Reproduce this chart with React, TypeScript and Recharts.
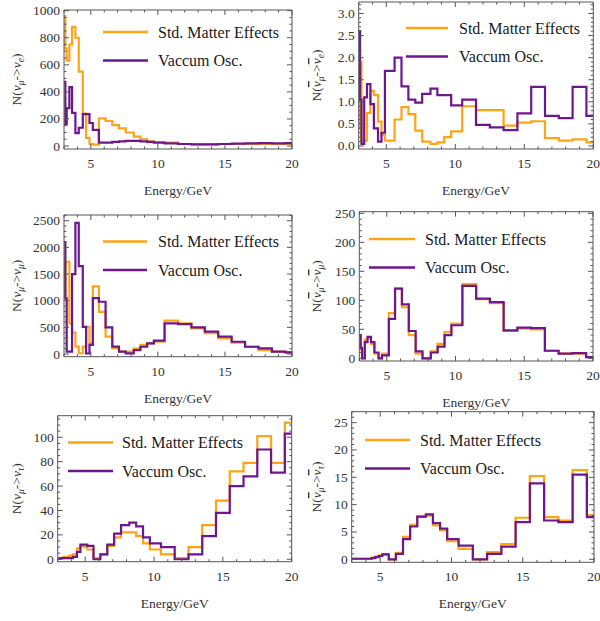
import React from 'react'
import { LineChart, Line, XAxis, YAxis } from 'recharts'

// bin starts (GeV); last entry closes the final bin
const ENERGY_EDGES = [3.0, 3.1, 3.2, 3.4, 3.6, 3.85, 4.1, 4.4, 4.65, 4.9, 5.15, 5.6, 6.1, 6.6, 7.1, 7.6, 8.2, 8.7, 9.2, 9.7, 10.5, 11.5, 12.5, 13.5, 14.5, 15.5, 16.5, 17.5, 18.5, 19.5, 20]

const NUMU_NUE_STD = [960, 720, 630, 750, 880, 800, 550, 240, 60, 15, 10, 205, 185, 155, 130, 100, 70, 50, 35, 28, 25, 15, 12, 12, 15, 15, 15, 15, 15, 15]
const NUMU_NUE_VAC = [475, 160, 280, 435, 245, 95, 135, 235, 235, 170, 120, 25, 25, 30, 35, 38, 38, 35, 30, 25, 20, 15, 12, 12, 15, 18, 20, 22, 20, 22]
const ANUMU_ANUE_STD = [0.4, 1.9, 0.12, 0.12, 0.75, 1.25, 1.15, 0.55, 0.25, 0.12, 0.12, 0.6, 0.88, 0.72, 0.35, 0.1, 0.05, 0.08, 0.2, 0.33, 0.9, 0.81, 0.81, 0.46, 0.53, 0.56, 0.18, 0.12, 0.15, 0.08]
const ANUMU_ANUE_VAC = [2.6, 1.05, 0.05, 1.1, 1.4, 0.95, 0.4, 0.1, 0.3, 1.7, 1.7, 2.0, 1.35, 1.05, 0.98, 1.18, 1.3, 1.15, 1.15, 0.92, 1.05, 0.48, 0.42, 0.36, 0.74, 1.34, 0.68, 0.63, 1.34, 0.68]
const NUMU_NUMU_STD = [1050, 1730, 1730, 575, 400, 140, 15, 140, 510, 200, 1270, 790, 325, 106, 44, 44, 100, 170, 200, 230, 625, 575, 480, 390, 295, 212, 137, 75, 44, 30]
const NUMU_NUMU_VAC = [2100, 1045, 45, 45, 1500, 2460, 1650, 510, 10, 170, 1050, 980, 500, 140, 44, 12, 75, 137, 200, 250, 575, 560, 500, 420, 325, 230, 137, 106, 44, 31]
const ANUMU_ANUMU_STD = [40, 15, 0, 32, 35, 25, 8, 0, 8, 8, 78, 120, 88, 40, 8, 0, 12, 25, 45, 60, 128, 102, 95, 47, 51, 50, 13, 8, 8, 2]
const ANUMU_ANUMU_VAC = [40, 18, 0, 28, 37, 28, 10, 0, 5, 5, 68, 120, 93, 47, 12, 0, 10, 20, 40, 57, 125, 103, 97, 48, 53, 52, 13, 8, 9, 2]
const NUMU_NUTAU_STD = [1, 1, 1, 2, 2, 3, 4, 9, 11, 10, 8, 1, 4, 11, 18, 22, 22, 19, 13, 8, 4, 1, 10, 28, 48, 72, 79, 101, 79, 112]
const NUMU_NUTAU_VAC = [0.5, 0.5, 1, 1, 1, 1, 2, 6, 12, 12, 11, 0, 4, 12, 21, 28, 30, 27, 18, 13, 10, 0, 4, 19, 38, 60, 68, 90, 71, 103]
const ANUMU_ANUTAU_STD = [0.1, 0.1, 0.1, 0.1, 0.1, 0.1, 0.1, 0.3, 0.5, 0.7, 0.9, 0, 1.2, 4.1, 6.3, 7.8, 8.0, 6.2, 5.3, 3.3, 1.9, 0, 1.3, 2.8, 7.6, 15.2, 7.7, 7.1, 16.3, 8.1]
const ANUMU_ANUTAU_VAC = [0.1, 0.1, 0.1, 0.1, 0.1, 0.1, 0.1, 0.2, 0.4, 0.6, 0.9, 0, 1.0, 3.7, 6.0, 7.8, 8.2, 6.6, 5.6, 3.7, 2.5, 0, 1.0, 2.3, 6.8, 13.9, 7.1, 6.8, 15.5, 7.7]

const X_TICKS = [5, 10, 15, 20]
const Y_TICKS_NUE = [0, 200, 400, 600, 800, 1000]
const Y_TICKS_ANUE = [0, 0.5, 1, 1.5, 2, 2.5, 3]
const Y_TICKS_NUMU = [0, 500, 1000, 1500, 2000, 2500]
const Y_TICKS_ANUMU = [0, 50, 100, 150, 200, 250]
const Y_TICKS_NUTAU = [0, 20, 40, 60, 80, 100]
const Y_TICKS_ANUTAU = [0, 5, 10, 15, 20, 25]

const LEGEND = ['Std. Matter Effects', 'Vaccum Osc.']
const X_TITLE = 'Energy/GeV'

const FONT = '"Liberation Serif", "Times New Roman", serif'
const FRAME = '#555'
const TXT = '#333'
const ORANGE = '#ffa414'
const PURPLE = '#6e168e'

const steps = (lo: number, hi: number, step: number) => {
  const out: number[] = []
  for (let v = lo; v <= hi + 1e-9; v += step) out.push(+v.toFixed(4))
  return out
}
const isMajor = (majors: number[], v: number) => majors.some(t => Math.abs(t - v) < 1e-6)
const int = (v: number) => String(v)

// m = frame position inside the panel box (axes take 1px each, subtracted below)
const PANELS = [
  { box: [0, 0, 300, 205], m: { top: 10, left: 64, right: 8, bottom: 56 }, yDomain: [-22, 1005], yTicks: Y_TICKS_NUE, minor: 50, fmt: int, std: NUMU_NUE_STD, vac: NUMU_NUE_VAC, bar: false, to: 'e', lg: { x1: 103, x2: 148, y: 32, tx: 158 } },
  { box: [300, 0, 300, 205], m: { top: 2, left: 58.7, right: 6.7, bottom: 56 }, yDomain: [-0.068, 3.26], yTicks: Y_TICKS_ANUE, minor: 0.1, fmt: (v: number) => v.toFixed(1), std: ANUMU_ANUE_STD, vac: ANUMU_ANUE_VAC, bar: true, to: 'e', lg: { x1: 106, x2: 148, y: 28, tx: 159 } },
  { box: [0, 205, 300, 205], m: { top: 10, left: 64, right: 8, bottom: 53.3 }, yDomain: [-50, 2607], yTicks: Y_TICKS_NUMU, minor: 100, fmt: int, std: NUMU_NUMU_STD, vac: NUMU_NUMU_VAC, bar: false, to: 'μ', lg: { x1: 103, x2: 147, y: 36.5, tx: 158 } },
  { box: [300, 205, 300, 205], m: { top: 6.7, left: 59.3, right: 7, bottom: 49 }, yDomain: [-4.7, 252.8], yTicks: Y_TICKS_ANUMU, minor: 10, fmt: int, std: ANUMU_ANUMU_STD, vac: ANUMU_ANUMU_VAC, bar: true, to: 'μ', lg: { x1: 69, x2: 115, y: 34, tx: 125 } },
  { box: [0, 410, 300, 211], m: { top: 5.7, left: 57.7, right: 8.3, bottom: 59.3 }, yDomain: [-2, 117.7], yTicks: Y_TICKS_NUTAU, minor: 5, fmt: int, std: NUMU_NUTAU_STD, vac: NUMU_NUTAU_VAC, bar: false, to: 'τ', lg: { x1: 68, x2: 113, y: 32.5, tx: 122 } },
  { box: [300, 410, 300, 211], m: { top: 1.7, left: 51.7, right: 6, bottom: 58.7 }, yDomain: [-0.55, 27], yTicks: Y_TICKS_ANUTAU, minor: 1, fmt: int, std: ANUMU_ANUTAU_STD, vac: ANUMU_ANUTAU_VAC, bar: true, to: 'τ', lg: { x1: 65, x2: 110, y: 30, tx: 120 } },
]

const X_ALL = steps(3, 20, 1)

const YLabel = ({ x, y, bar, to }: any) => (
  <text transform={`translate(${x},${y}) rotate(-90)`} textAnchor="middle" fontFamily={FONT} fontSize={13.5} fill={TXT}>
    N(
    <tspan fontStyle="italic" textDecoration={bar ? 'overline' : undefined}>ν</tspan>
    <tspan fontStyle="italic" fontSize={9.5} dy={3}>μ</tspan>
    <tspan dy={-3}>{'->'}</tspan>
    <tspan fontStyle="italic" textDecoration={bar ? 'overline' : undefined}>ν</tspan>
    <tspan fontStyle="italic" fontSize={9.5} dy={3}>{to}</tspan>
    <tspan dy={-3}>)</tspan>
  </text>
)

function Panel({ p }: any) {
  const [bx, by, W, H] = p.box
  const n = p.std.length
  const data = ENERGY_EDGES.map((e, i) => ({ e, std: p.std[Math.min(i, n - 1)], vac: p.vac[Math.min(i, n - 1)] }))
  const yAll = steps(0, p.yDomain[1], p.minor)
  const plotL = p.m.left, plotR = W - p.m.right, plotT = p.m.top, plotB = H - p.m.bottom
  const margin = { top: p.m.top - 1, left: p.m.left - 1, right: p.m.right - 1, bottom: p.m.bottom - 1 }
  const xTick = (side: 'bottom' | 'top') => (t: any) => {
    const major = isMajor(X_TICKS, t.payload.value)
    const len = major ? 5 : 2.5
    const dir = side === 'bottom' ? -1 : 1
    return (
      <g>
        <line x1={t.x} x2={t.x} y1={t.y} y2={t.y + dir * len} stroke={FRAME} />
        {side === 'bottom' && major && (
          <text x={t.x} y={t.y + 19} textAnchor="middle" fontFamily={FONT} fontSize={13.5} fill={TXT}>{t.payload.value}</text>
        )}
      </g>
    )
  }
  const yTick = (side: 'left' | 'right') => (t: any) => {
    const major = isMajor(p.yTicks, t.payload.value)
    const len = major ? 5 : 2.5
    const dir = side === 'left' ? 1 : -1
    return (
      <g>
        <line x1={t.x} x2={t.x + dir * len} y1={t.y} y2={t.y} stroke={FRAME} />
        {side === 'left' && major && (
          <text x={t.x - 4} y={t.y + 4.5} textAnchor="end" fontFamily={FONT} fontSize={13.5} fill={TXT}>{p.fmt(t.payload.value)}</text>
        )}
      </g>
    )
  }
  const axisCommon = { type: 'number' as const, allowDataOverflow: true, interval: 0 as const, tickSize: 0, tickMargin: 0, axisLine: { stroke: FRAME } }
  return (
    <div style={{ position: 'absolute', left: bx, top: by, width: W, height: H }}>
      <LineChart width={W} height={H} data={data} margin={margin}>
        <XAxis dataKey="e" domain={[3, 20]} ticks={X_ALL} height={1} tick={xTick('bottom')} {...axisCommon} />
        <XAxis xAxisId="top" orientation="top" dataKey="e" domain={[3, 20]} ticks={X_ALL} height={1} tick={xTick('top')} {...axisCommon} />
        <YAxis domain={p.yDomain} ticks={yAll} width={1} tick={yTick('left')} {...axisCommon} />
        <YAxis yAxisId="right" orientation="right" domain={p.yDomain} ticks={yAll} width={1} tick={yTick('right')} {...axisCommon} />
        <Line dataKey="std" type="stepAfter" stroke={ORANGE} strokeWidth={2.2} dot={false} isAnimationActive={false} />
        <Line dataKey="vac" type="stepAfter" stroke={PURPLE} strokeWidth={2.2} dot={false} isAnimationActive={false} />
      </LineChart>
      <svg width={W} height={H} style={{ position: 'absolute', left: 0, top: 0, overflow: 'visible', pointerEvents: 'none' }}>
        {[ORANGE, PURPLE].map((c, i) => (
          <g key={c}>
            <line x1={p.lg.x1} x2={p.lg.x2} y1={p.lg.y + i * 28.5} y2={p.lg.y + i * 28.5} stroke={c} strokeWidth={2.6} />
            <text x={p.lg.tx} y={p.lg.y + i * 28.5 + 5.5} fontFamily={FONT} fontSize={16} fill="#1a1a1a">{LEGEND[i]}</text>
          </g>
        ))}
        <text x={(plotL + plotR) / 2} y={plotB + 46} textAnchor="middle" fontFamily={FONT} fontSize={13.5} fill={TXT}>{X_TITLE}</text>
        <YLabel x={21} y={(plotT + plotB) / 2} bar={p.bar} to={p.to} />
      </svg>
    </div>
  )
}

export default function App() {
  return (
    <div style={{ position: 'absolute', left: 0, top: 0, width: 600, height: 621, background: '#fff' }}>
      {PANELS.map((p, i) => <Panel key={i} p={p} />)}
    </div>
  )
}
